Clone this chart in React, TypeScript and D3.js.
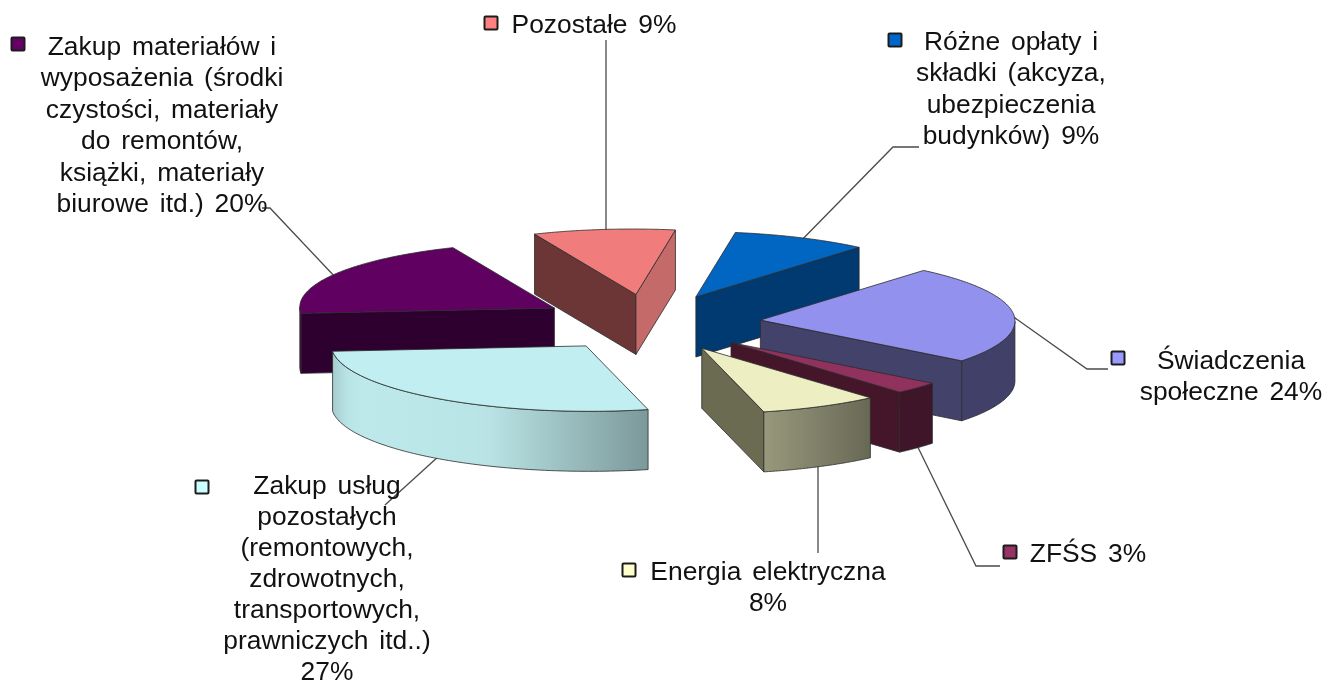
import React from "react";
import * as d3 from "d3";

// ---- data (clockwise, starting from the top of the pie) ----
const categories = ["Różne opłaty i składki", "Świadczenia społeczne", "ZFŚS", "Energia elektryczna", "Zakup usług pozostałych", "Zakup materiałów i wyposażenia", "Pozostałe"];
const values = [8.6, 24.4, 3.0, 7.6, 27.4, 20.0, 9.0];
const labelLines = [
  ["Różne opłaty i", "składki (akcyza,", "ubezpieczenia", "budynków) 9%"],
  ["Świadczenia", "społeczne 24%"],
  ["ZFŚS 3%"],
  ["Energia elektryczna", "8%"],
  ["Zakup usług", "pozostałych", "(remontowych,", "zdrowotnych,", "transportowych,", "prawniczych itd..)", "27%"],
  ["Zakup materiałów i", "wyposażenia (środki", "czystości, materiały", "do remontów,", "książki, materiały", "biurowe itd.) 20%"],
  ["Pozostałe 9%"],
];
const topColors = ["#0066C2", "#9292EE", "#90315E", "#EDEEC2", "#C1EEF0", "#600060", "#F07C7B"];
const legendColors = ["#0066CC", "#9999FF", "#993366", "#FFFFCC", "#CCFFFF", "#660066", "#FF8080"];
const startWallColors = ["#003A70", "#43426A", "#451629", "#6B6B52", "#7D9A9B", "#2E0030", "#6B3635"];
const endWallColors = ["#003A70", "#43426A", "#451629", "#6B6B52", "#7D9A9B", "#2E0030", "#C46B6A"];

// ---- layout ----
const centre = { x: 650, y: 322.8 };
const explode = 0.436;
const depth = 60;
// affine projection of the unit circle onto the screen
const proj = { xc: 39.5, xs: 251.5, yc: -64.5, ys: 11 };
const FONT = 26.4;
const labelPos = [
  { cx: 1011, y: 50, mx: 895, my: 40, gap: 31.4 },
  { cx: 1231, y: 369, mx: 1118, my: 358, gap: 31.4 },
  { cx: 1088, y: 562, mx: 1010, my: 552, gap: 31.4 },
  { cx: 768, y: 580, mx: 629, my: 570, gap: 31.4 },
  { cx: 327, y: 494, mx: 202, my: 487, gap: 31 },
  { cx: 162, y: 55, mx: 18, my: 44, gap: 31.4 },
  { cx: 594, y: 33, mx: 491, my: 23, gap: 31.4 },
];
const elbows: [number, number][][] = [
  [[893, 147], [919, 147]],
  [[1087, 369], [1108, 369]],
  [[976, 566], [1000, 566]],
  [[818, 553]],
  [[385, 505]],
  [[270, 208], [262, 208]],
  [[606, 40]],
];
const verticalLeader = [false, false, false, true, false, false, true];

const ex = (t: number) => proj.xc * Math.cos(t) + proj.xs * Math.sin(t);
const ey = (t: number) => proj.yc * Math.cos(t) + proj.ys * Math.sin(t);

// rim brightness depends on where the rim sits on the ellipse
const rimShade = d3.scaleLinear().domain([-253, -235, -100, 62, 168, 255]).range([0.86, 0.98, 0.96, 0.64, 0.44, 0.44]);

const line = d3.line<[number, number]>();
const arcs = d3.pie<number>().sort(null).startAngle(0).endAngle(2 * Math.PI)(values);

const shade = (c: string, k: number) => {
  const r = d3.rgb(c);
  return d3.rgb(r.r * k, r.g * k, r.b * k).formatHex();
};

const slices = arcs.map((a, i) => {
  const mid = (a.startAngle + a.endAngle) / 2;
  const ax = centre.x + explode * ex(mid);
  const ay = centre.y + explode * ey(mid);
  const n = 80;
  const ts = d3.range(n + 1).map((k) => a.startAngle + ((a.endAngle - a.startAngle) * k) / n);
  const rim: [number, number][] = ts.map((t) => [ax + ex(t), ay + ey(t)]);
  const apex: [number, number] = [ax, ay];
  const down = (p: [number, number]): [number, number] => [p[0], p[1] + depth];
  const wall = (p: [number, number], q: [number, number]) => line([p, q, down(q), down(p)])! + "Z";
  const visRim = rim.filter((p, k) => (k > 0 && rim[k - 1][0] > p[0]) || (k < n && p[0] > rim[k + 1][0]));
  const rimPath = visRim.length > 1 ? line([...visRim, ...visRim.slice().reverse().map(down)])! + "Z" : null;
  const xs = visRim.map((p) => p[0]);
  const x0 = d3.min(xs) ?? 0;
  const x1 = d3.max(xs) ?? 1;
  const stops = d3.range(0, 21).map((k) => {
    const x = x0 + ((x1 - x0) * k) / 20;
    return { o: k / 20, c: shade(topColors[i], rimShade(x - ax)) };
  });
  const frontMid = Math.sin(mid) * proj.xc - Math.cos(mid) * proj.xs > 0;
  const mx = verticalLeader[i] ? elbows[i][0][0] : ax + ex(mid);
  const my = ay + ey(mid) + (frontMid ? depth - 3 : 3);
  return {
    i, ax, ay, apex, rim, rimPath, x0, x1, stops,
    startWall: rim[0][0] < ax ? wall(apex, rim[0]) : null,
    endWall: ax < rim[n][0] ? wall(rim[n], apex) : null,
    top: line([apex, ...rim])! + "Z",
    leader: [[mx, my] as [number, number], ...elbows[i]],
  };
});
const painter = slices.slice().sort((p, q) => d3.ascending(p.ay, q.ay));

const edge = { stroke: "#2b2b2b", strokeWidth: 0.8, strokeLinejoin: "round" as const };

export default function App() {
  return (
    <svg width={1325} height={686} style={{ position: "absolute", left: 0, top: 0, background: "#fff", filter: "blur(0.45px)" }}
      fontFamily="'Liberation Sans', Arial, sans-serif">
      <defs>
        {slices.map((s) => (
          <linearGradient key={s.i} id={`rim${s.i}`} gradientUnits="userSpaceOnUse" x1={s.x0} x2={s.x1} y1={0} y2={0}>
            {s.stops.map((d) => <stop key={d.o} offset={d.o} stopColor={d.c} />)}
          </linearGradient>
        ))}
      </defs>
      <g fill="none" stroke="#4a4a4a" strokeWidth={1.3}>
        {slices.map((s) => <path key={s.i} d={line(s.leader)!} />)}
      </g>
      {painter.map((s) => (
        <g key={s.i} data-category={categories[s.i]}>
          {s.startWall && <path d={s.startWall} fill={startWallColors[s.i]} {...edge} />}
          {s.endWall && <path d={s.endWall} fill={endWallColors[s.i]} {...edge} />}
          {s.rimPath && <path d={s.rimPath} fill={`url(#rim${s.i})`} {...edge} />}
          <path d={s.top} fill={topColors[s.i]} {...edge} />
        </g>
      ))}
      {labelLines.map((ls, i) => (
        <g key={i}>
          <rect x={labelPos[i].mx - 6.5} y={labelPos[i].my - 6.5} width={13} height={13} rx={1}
            fill={legendColors[i]} stroke="#1c1c1c" strokeWidth={2} />
          <text fontSize={FONT} fill="#111" textAnchor="middle" style={{ wordSpacing: "3.5px" }}>
            {ls.map((l, k) => <tspan key={k} x={labelPos[i].cx} y={labelPos[i].y + k * labelPos[i].gap}>{l}</tspan>)}
          </text>
        </g>
      ))}
    </svg>
  );
}
